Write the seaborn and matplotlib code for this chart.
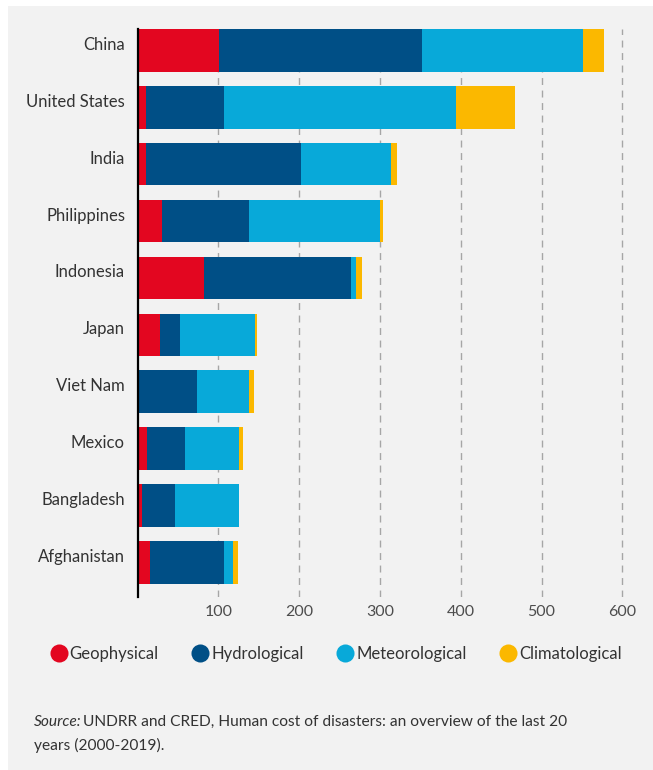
import matplotlib
matplotlib.use("Agg")
import matplotlib.pyplot as plt
from matplotlib.patches import Rectangle
from matplotlib.lines import Line2D
import matplotlib.transforms as mtransforms
import seaborn as sns
import pandas as pd

countries = ["China", "United States", "India", "Philippines", "Indonesia",
             "Japan", "Viet Nam", "Mexico", "Bangladesh", "Afghanistan"]
geophysical = [101, 10, 10, 30, 82, 28, 0, 12, 5, 16]
hydrological = [251, 97, 192, 108, 182, 25, 74, 47, 42, 91]
meteorological = [199, 287, 112, 162, 6, 93, 64, 67, 78, 11]
climatological = [26, 73, 7, 4, 8, 2, 6, 4, 1, 6]
series_names = ["Geophysical", "Hydrological", "Meteorological", "Climatological"]
colors = ["#e30620", "#004f86", "#08a9d9", "#fbb800"]
xticks = [100, 200, 300, 400, 500, 600]

sns.set_theme(style="white")
plt.rcParams["font.family"] = ["Lato", "DejaVu Sans"]

df = pd.DataFrame({"country": countries, "Geophysical": geophysical,
                   "Hydrological": hydrological, "Meteorological": meteorological,
                   "Climatological": climatological})
cum = df[series_names].cumsum(axis=1)
cum["country"] = df["country"]

W, H = 653, 770
fig = plt.figure(figsize=(W / 100, H / 100), dpi=100)
fig.patch.set_facecolor("white")
fig.patches.append(Rectangle((8 / W, 0), 1, (H - 6) / H, transform=fig.transFigure,
                             facecolor="#f2f2f2", edgecolor="none", zorder=-10))

left, right = 137.5, 630.5
top, bottom = 29, 597
ax = fig.add_axes([left / W, 1 - bottom / H, (right - left) / W, (bottom - top) / H])
ax.patch.set_visible(False)

for name, col in reversed(list(zip(series_names, colors))):
    sns.barplot(data=cum, x=name, y="country", order=countries, orient="h",
                color=col, width=0.75, saturation=1, ax=ax, zorder=3,
                linewidth=0)

ax.set_xlim(0, 610)
ax.set_ylim(9.606, -0.375)
ax.set_xticks(xticks)
ax.set_xticklabels([str(t) for t in xticks])
ax.set_xlabel("")
ax.set_ylabel("")
ax.grid(axis="x", linestyle=(0, (5, 4)), color="#a6a6a6", linewidth=1, zorder=0)
ax.grid(axis="y", visible=False)
ax.set_axisbelow(True)
for s in ["top", "right", "bottom"]:
    ax.spines[s].set_visible(False)
ax.spines["left"].set_color("black")
ax.spines["left"].set_linewidth(1.6)
ax.spines["left"].set_zorder(5)
ax.tick_params(axis="x", length=0, pad=6, labelsize=11.5, labelcolor="#4d4d4d")
ax.tick_params(axis="y", length=0, pad=9, labelsize=12, labelcolor="#333333")
shift = mtransforms.ScaledTranslation(0, 7 / 100, fig.dpi_scale_trans)
for lab in ax.get_yticklabels():
    lab.set_transform(lab.get_transform() + shift)

handles = [Line2D([], [], marker="o", linestyle="", markersize=13, color=c,
                  markeredgewidth=0) for c in colors]
fig.legend(handles, series_names, loc="center", bbox_to_anchor=(336 / W, 1 - 654 / H),
           ncol=4, frameon=False, fontsize=12, handletextpad=0.15, columnspacing=2.0,
           handlelength=1.0, labelcolor="#333333")

t1 = fig.text(34 / W, 1 - 722 / H, "Source:", fontsize=11.2, style="italic",
              color="#333333", va="center")
fig.canvas.draw()
bb = t1.get_window_extent()
fig.text((bb.x1 + 1) / W, 1 - 722 / H,
         "UNDRR and CRED, Human cost of disasters: an overview of the last 20",
         fontsize=11.2, color="#333333", va="center")
fig.text(34 / W, 1 - 745 / H, "years (2000-2019).", fontsize=11.2, color="#333333",
         va="center")

fig.savefig("out.png", dpi=100, facecolor=fig.get_facecolor())
